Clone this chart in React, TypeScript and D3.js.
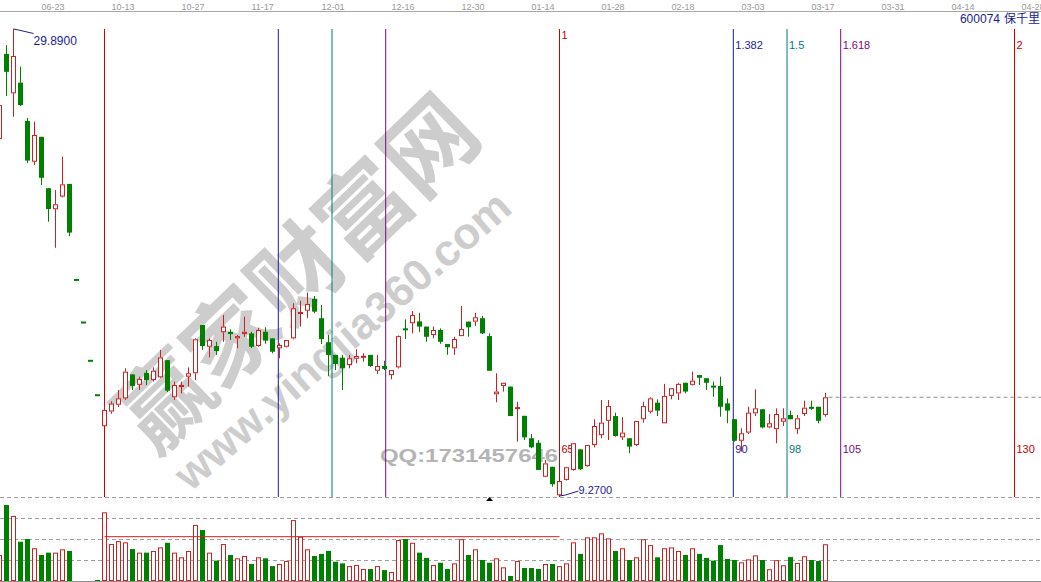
import React from 'react';
import * as d3 from 'd3';

const WIDTH = 1041;
const HEIGHT = 582;

// ---- data ----
const stockCode = '600074';
const stockName = '保千里';
const dateLabels = ['06-23', '10-13', '10-27', '11-17', '12-01', '12-16', '12-30', '01-14', '01-28', '02-18', '03-03', '03-17', '03-31', '04-14', '04-28'];
const dateLabelFirstBar = 5;
const dateLabelEvery = 10;

const firstBar = -1; // index of the first (partially visible) bar
const opens = [
  25.03, 28.79, 27.05, 27.52, 25.83, 24.03, 25.13, 22.86, 21.93, 22.49, 23.05,
  18.81, 16.93, 15.24, 13.72,
  12.35, 13.00, 13.30, 13.58, 14.64, 14.18, 14.71, 14.39, 14.51, 15.27,
  13.63, 14.10, 14.54, 14.69, 16.82, 15.86, 15.89, 16.50, 16.52, 16.23,
  16.42, 16.45, 15.89, 16.52, 16.23, 15.79, 15.86, 16.23, 17.32, 17.45,
  17.97, 17.12, 16.06, 15.50, 15.38, 15.05, 15.33, 15.39, 15.50, 14.80,
  15.01, 14.61, 14.95, 16.66, 16.90, 16.98, 16.75, 16.38, 16.60, 15.98,
  15.79, 16.33, 16.97, 16.97, 17.12, 16.33, 13.76, 14.13, 14.10, 13.11,
  12.81, 11.82, 11.62, 10.12, 10.56, 9.30, 9.98, 10.42, 11.33, 10.59,
  11.52, 11.96, 12.59, 12.80, 11.86, 11.82, 11.52, 12.66, 12.99, 13.39,
  12.48, 13.69, 13.80, 14.27, 14.18, 14.61, 14.47, 14.13, 14.13, 13.36,
  12.66, 11.71, 12.07, 12.92, 13.10, 12.30, 12.22, 12.55, 12.85, 12.22,
  12.89, 13.21, 13.21, 12.85,
];
const highs = [
  26.76, 29.18, 29.89, 28.23, 25.96, 25.80, 25.13, 22.87, 22.78, 24.25, 23.05,
  18.81, 16.93, 15.24, 13.72,
  13.29, 13.45, 13.95, 14.91, 14.64, 14.54, 14.83, 14.95, 15.72, 15.27,
  14.32, 14.32, 14.95, 16.23, 16.82, 16.23, 16.08, 17.26, 16.63, 16.38,
  17.19, 16.52, 16.70, 16.72, 16.23, 16.01, 16.16, 17.78, 17.89, 18.25,
  18.10, 17.70, 16.38, 15.50, 15.50, 15.50, 15.75, 15.57, 15.50, 15.50,
  15.24, 14.83, 16.36, 17.07, 17.44, 17.36, 16.75, 16.75, 16.67, 15.98,
  16.30, 17.66, 16.97, 17.36, 17.22, 16.45, 14.69, 14.27, 14.10, 13.43,
  12.81, 12.01, 11.74, 10.86, 10.56, 9.93, 10.56, 11.60, 11.33, 11.52,
  12.66, 13.51, 13.51, 12.95, 12.75, 11.82, 12.58, 13.43, 13.63, 13.54,
  14.22, 14.03, 14.27, 14.27, 14.76, 14.61, 14.47, 14.32, 14.54, 13.58,
  12.66, 12.26, 13.21, 13.98, 13.10, 12.89, 13.14, 13.14, 13.04, 12.85,
  13.48, 13.48, 13.21, 13.83,
];
const lows = [
  24.90, 26.93, 26.02, 26.49, 23.97, 23.89, 23.00, 21.38, 20.23, 22.45, 20.75,
  18.81, 16.93, 15.24, 13.72,
  12.35, 12.90, 13.20, 13.51, 13.95, 13.95, 14.17, 14.32, 14.47, 13.86,
  13.51, 13.80, 14.10, 14.39, 15.72, 15.39, 15.50, 16.08, 16.16, 15.79,
  16.30, 15.80, 15.86, 15.99, 15.57, 15.35, 15.83, 16.19, 16.75, 17.12,
  17.34, 15.98, 14.57, 14.83, 13.95, 14.91, 15.13, 15.20, 14.97, 14.66,
  14.83, 14.42, 14.90, 16.20, 16.45, 16.52, 16.08, 16.23, 15.99, 15.50,
  15.50, 16.33, 16.30, 16.78, 16.42, 14.80, 13.41, 13.88, 12.80, 11.67,
  11.74, 11.38, 10.42, 10.10, 9.68, 9.27, 9.95, 10.39, 10.42, 10.56,
  11.42, 11.82, 11.74, 11.89, 11.74, 11.16, 11.48, 12.51, 12.92, 12.80,
  12.48, 13.54, 13.51, 13.80, 14.15, 14.17, 13.95, 13.65, 12.77, 12.48,
  11.67, 11.23, 12.01, 12.80, 12.26, 12.26, 11.60, 12.36, 12.66, 12.01,
  12.80, 13.07, 12.48, 12.77,
];
const closes = [
  26.53, 28.00, 28.70, 26.53, 24.08, 25.21, 23.32, 21.94, 22.15, 23.03, 20.90,
  18.81, 16.93, 15.24, 13.72,
  13.07, 13.35, 13.58, 14.76, 14.13, 14.44, 14.39, 14.80, 15.39, 13.92,
  14.17, 14.15, 14.69, 16.19, 15.89, 16.16, 15.67, 16.75, 16.42, 16.33,
  16.52, 15.86, 16.60, 16.13, 15.64, 15.94, 16.16, 17.56, 17.38, 17.75,
  17.41, 16.20, 15.50, 15.10, 14.91, 15.35, 15.45, 15.44, 15.01, 15.01,
  14.88, 14.83, 16.33, 16.60, 17.26, 16.75, 16.30, 16.60, 16.08, 15.84,
  16.20, 16.64, 16.72, 17.16, 16.45, 14.80, 13.88, 14.27, 12.80, 13.19,
  11.86, 11.42, 10.42, 10.71, 9.79, 9.93, 10.54, 11.60, 10.45, 11.52,
  12.36, 12.51, 13.24, 11.92, 12.07, 11.45, 12.58, 13.24, 13.58, 13.04,
  13.69, 14.03, 14.22, 13.88, 14.36, 14.49, 14.27, 14.07, 13.21, 13.04,
  11.71, 12.04, 12.95, 13.14, 12.30, 12.48, 12.89, 12.70, 12.66, 12.70,
  13.17, 13.12, 12.59, 13.63,
];
const volumes = [
  12.4, 36.2, 31.0, 18.7, 20.0, 15.6, 12.4, 13.5, 13.5, 15.1, 14.3,
  0, 0, 0, 0.5,
  32.7, 17.6, 19.0, 18.4, 15.2, 13.5, 13.5, 14.3, 16.0, 18.2,
  13.5, 11.3, 14.3, 26.7, 24.3, 13.5, 9.7, 17.6, 12.4, 10.8,
  11.9, 8.1, 11.3, 10.8, 7.1, 8.1, 9.5, 29.0, 21.1, 15.1,
  11.9, 12.9, 14.3, 9.2, 8.4, 7.1, 7.6, 5.7, 5.7, 7.1,
  5.2, 4.3, 19.5, 20.0, 18.2, 13.5, 11.0, 7.6, 8.7, 5.7,
  8.4, 19.9, 12.4, 15.1, 10.0, 8.7, 10.8, 6.5, 2.4, 9.5,
  6.2, 6.2, 5.7, 8.1, 8.1, 7.1, 8.4, 18.4, 12.9, 20.8,
  20.8, 22.7, 20.3, 14.3, 15.6, 10.0, 11.3, 19.9, 17.1, 11.3,
  15.6, 16.0, 14.3, 12.4, 15.6, 12.9, 11.0, 9.7, 17.1, 10.5,
  10.0, 8.9, 10.3, 12.2, 10.0, 5.6, 9.9, 7.5, 11.4, 8.6,
  11.8, 10.0, 9.5, 17.5,
];
const volumeGridValues = [10, 20, 30, 40];
const volumeMax = 40;

const fibStartBar = 14;
const fibSpanBars = 65;
const fibRatios = [0, 0.382, 0.5, 0.618, 1, 1.382, 1.5, 1.618, 2];
const fibColors = ['#c80000', '#1c1ca0', '#007a7a', '#7a0a7a', '#c80000', '#1c1ca0', '#007a7a', '#7a0a7a', '#c80000'];
const fibVolumeLevel = 21.1;
const markerBar = 69;
const watermarkTitle = '赢家财富网';
const watermarkUrl = 'www.yingjia360.com';
const watermarkQQ = 'QQ:1731457646';

const UP = '#cc1f1f';
const DOWN = '#008000';
const NAVY = '#1c1c8c';

export default function App() {
  const n = opens.length;
  const bars = d3.range(n).map((i) => ({
    k: i + firstBar,
    o: opens[i], h: highs[i], l: lows[i], c: closes[i], v: volumes[i],
    prev: i > 0 ? closes[i - 1] : opens[i],
  }));
  const lastBarSlot = 147;
  const x = d3.scaleLinear().domain([0, lastBarSlot]).range([6.5, 6.5 + 7 * lastBarSlot]);
  const yMin = d3.min(lows) as number;
  const yMax = d3.max(highs) as number;
  const y = d3.scaleLinear().domain([yMin, yMax]).range([496, 29]);
  const yv = d3.scaleLinear().domain([0, volumeMax]).range([581, 497]);

  const isUp = (b: any) => b.c > b.o || (b.c === b.o && b.c >= b.prev);

  const hiIdx = d3.maxIndex(highs);
  const loIdx = d3.minIndex(lows);
  const hiBar = bars[hiIdx];
  const loBar = bars[loIdx];
  const last = bars[n - 1];

  const candles = bars.map((b) => {
    const cx = x(b.k);
    const col = isUp(b) ? UP : DOWN;
    const yt = y(Math.max(b.o, b.c));
    const yb = y(Math.min(b.o, b.c));
    const yh = y(b.h);
    const yl = y(b.l);
    if (yb - yt < 2) {
      const ym = (yt + yb) / 2;
      return (
        <g key={b.k}>
          {yl - yh > 2 && <line x1={cx} x2={cx} y1={yh} y2={yl} stroke={col} strokeWidth={1} />}
          <rect x={cx - 2.5} y={ym - 1} width={5} height={2} fill={col} />
        </g>
      );
    }
    if (isUp(b)) {
      return (
        <g key={b.k}>
          <line x1={cx} x2={cx} y1={yh} y2={yt} stroke={col} />
          <line x1={cx} x2={cx} y1={yb} y2={yl} stroke={col} />
          <rect x={cx - 2} y={yt + 0.5} width={4} height={Math.max(yb - yt - 1, 0.5)} fill="#fff" stroke={col} strokeWidth={1} />
        </g>
      );
    }
    return (
      <g key={b.k}>
        <line x1={cx} x2={cx} y1={yh} y2={yl} stroke={col} />
        <rect x={cx - 2.5} y={yt} width={5} height={yb - yt} fill={col} />
      </g>
    );
  });

  const volBars = bars.map((b) => {
    if (b.v <= 0) return null;
    const cx = x(b.k);
    const top = yv(b.v);
    const base = yv(0);
    if (isUp(b)) {
      return <rect key={'v' + b.k} x={cx - 2} y={top + 0.5} width={4} height={Math.max(base - top - 1, 0.5)} fill="#fff" stroke={UP} strokeWidth={1} />;
    }
    return <rect key={'v' + b.k} x={cx - 2.5} y={top} width={5} height={Math.max(base - top, 1)} fill={DOWN} />;
  });

  const fibLines = fibRatios.map((r, i) => {
    const fx = x(fibStartBar + r * fibSpanBars);
    const col = fibColors[i];
    return (
      <g key={'f' + i}>
        <line x1={fx} x2={fx} y1={29} y2={497} stroke={col} strokeWidth={1} />
        {r >= 1 && (
          <text x={fx + 2} y={r === 1 ? 39 : 48.5} fill={col} fontSize={11} fontFamily="Liberation Sans, Arial, sans-serif">{String(r)}</text>
        )}
        {r >= 1 && (
          <text x={fx + 2} y={452.5} fill={col} fontSize={11} fontFamily="Liberation Sans, Arial, sans-serif">{String(Math.round(r * fibSpanBars))}</text>
        )}
      </g>
    );
  });

  const hx = x(hiBar.k);
  const hy = y(hiBar.h);
  const lx = x(loBar.k);
  const ly = y(loBar.l);
  const mx = x(markerBar);

  return (
    <svg width={WIDTH} height={HEIGHT} style={{ position: 'absolute', left: 0, top: 0, background: '#fff' }} xmlns="http://www.w3.org/2000/svg">
      <rect x={0} y={0} width={WIDTH} height={HEIGHT} fill="#fff" />
      {/* watermark */}
      <g fill="#cdcdcd" fontWeight="bold">
        <text transform="translate(292,268) rotate(-44)" textAnchor="middle" dominantBaseline="central" fontSize={92} fontFamily="Noto Sans CJK SC, sans-serif">{watermarkTitle}</text>
        <text transform="translate(342,340) rotate(-41)" textAnchor="middle" dominantBaseline="central" fontSize={44} fontFamily="Liberation Sans, Arial, sans-serif">{watermarkUrl}</text>
        <text x={380} y={462} fontSize={19} fill="#b4b4b4" fontFamily="Liberation Sans, Arial, sans-serif" textLength={178} lengthAdjust="spacingAndGlyphs">{watermarkQQ}</text>
      </g>
      {/* top date axis */}
      <line x1={0} x2={WIDTH} y1={11.5} y2={11.5} stroke="#a8a8a8" />
      {dateLabels.map((d, i) => (
        <text key={d} x={x(dateLabelFirstBar + i * dateLabelEvery)} y={9.5} fontSize={9} fill="#9a9a9a" fontFamily="Liberation Sans, Arial, sans-serif">{d}</text>
      ))}
      <text x={1040} y={22.5} textAnchor="end" fill={NAVY} fontSize={12} fontFamily="Liberation Sans, Noto Sans CJK SC, sans-serif">
        {stockCode}<tspan dx={4} fontFamily="Noto Sans CJK SC, sans-serif">{stockName}</tspan>
      </text>
      {/* volume grid */}
      {volumeGridValues.map((g) => (
        <line key={'g' + g} x1={0} x2={WIDTH} y1={Math.round(yv(g)) + 0.5} y2={Math.round(yv(g)) + 0.5} stroke="#a0a0a0" strokeDasharray="4,3" />
      ))}
      <line x1={0} x2={WIDTH} y1={581.5} y2={581.5} stroke="#909090" />
      {/* fib time lines */}
      {fibLines}
      {/* candles */}
      {candles}
      {/* last close line */}
      <line x1={x(last.k) + 3} x2={WIDTH} y1={y(last.c)} y2={y(last.c)} stroke="#909090" strokeDasharray="4,3" />
      {/* high / low labels */}
      <polyline points={`${hx},${hy} ${hx + 5},${hy + 1} ${hx + 20},${hy + 4.5}`} fill="none" stroke={NAVY} />
      <text x={hx + 20} y={hy + 15.5} fill={NAVY} fontSize={12} fontFamily="Liberation Sans, Arial, sans-serif">{hiBar.h.toFixed(4)}</text>
      <polyline points={`${lx},${ly} ${lx + 6},${ly - 1} ${lx + 19},${ly - 5}`} fill="none" stroke={NAVY} />
      <text x={lx + 19} y={ly - 2} fill={NAVY} fontSize={11} fontFamily="Liberation Sans, Arial, sans-serif">{loBar.l.toFixed(4)}</text>
      {/* volume */}
      {volBars}
      <line x1={x(fibStartBar)} x2={x(fibStartBar + fibSpanBars)} y1={yv(fibVolumeLevel)} y2={yv(fibVolumeLevel)} stroke={UP} strokeWidth={1} />
      <path d={`M${mx - 3.5},501 L${mx},497 L${mx + 3.5},501 Z`} fill="#000" />
    </svg>
  );
}
